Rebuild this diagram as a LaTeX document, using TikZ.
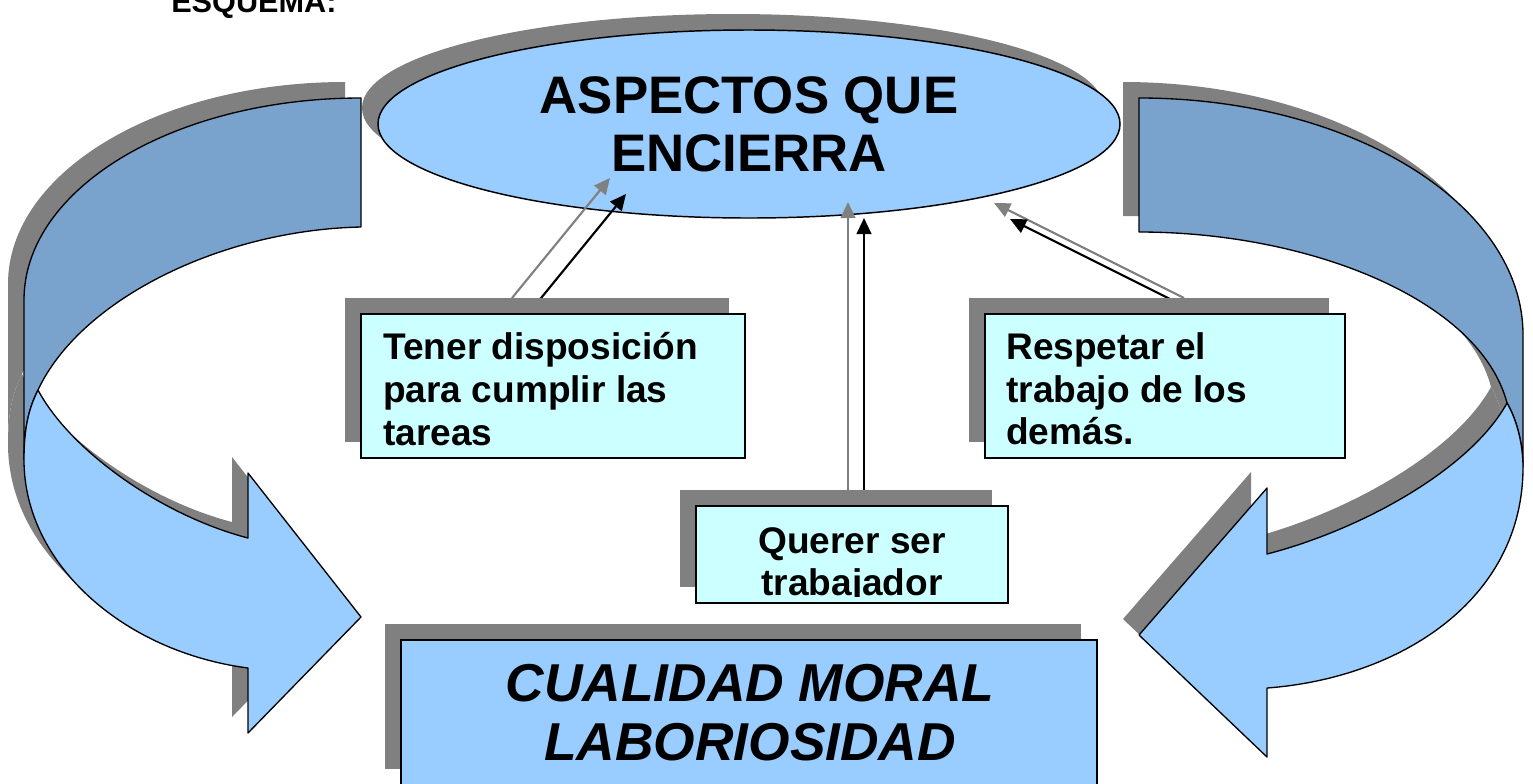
\documentclass[tikz,border=0pt]{standalone}
\usepackage{fontspec}
\setmainfont{Liberation Sans}
\usetikzlibrary{arrows.meta,shapes.geometric,shadows}
\definecolor{lightblue}{HTML}{99CCFF}
\definecolor{bandblue}{HTML}{79A3CC}
\definecolor{paleblue}{HTML}{CCFFFF}
\definecolor{shadowc}{HTML}{808080}

\newcommand\leftBack[1]{\path[#1] (361,98) .. controls (175,98) and (24,188) .. (24,300) -- (24,460) .. controls (24,430) and (28,410) .. (38,390) .. controls (80,300) and (220,230) .. (361,227) -- cycle;}
\newcommand\leftFront[1]{\path[#1] (38,390) .. controls (70,450) and (160,515) .. (248,538) -- (248,473) -- (361,617) -- (248,733) -- (248,668) .. controls (125,652) and (24,565) .. (24,460) .. controls (24,430) and (28,410) .. (38,390) -- cycle;}
\newcommand\rightBack[1]{\path[#1] (1139,98) .. controls (1351,98) and (1523,204) .. (1523,335) -- (1523,467) .. controls (1523,445) and (1517,420) .. (1507,403) .. controls (1480,300) and (1310,232) .. (1139,232) -- cycle;}
\newcommand\rightFront[1]{\path[#1] (1507,403) .. controls (1470,470) and (1360,530) .. (1267,554) -- (1267,488) -- (1139,635) -- (1267,757) -- (1267,688) .. controls (1400,678) and (1523,600) .. (1523,467) .. controls (1523,445) and (1517,420) .. (1507,403) -- cycle;}

\tikzset{
  shadowshift/.style={fill=shadowc, shift={(-16,-16)}},
  bandback/.style={fill=bandblue, draw=black, line width=1pt, line join=round},
  bandfront/.style={fill=lightblue, draw=black, line width=1pt, line join=round},
  myshadow/.style={drop shadow={shadow xshift=-12pt, shadow yshift=12pt, opacity=1, fill=shadowc}},
  txtbox/.style={draw=black, line width=1.1pt, fill=paleblue, inner sep=0pt, myshadow},
  boxtxt/.style={font=\bfseries\fontsize{27.8}{32}\selectfont, align=left, inner sep=0pt, anchor=west},
  boxtxtc/.style={font=\bfseries\fontsize{27.8}{32}\selectfont, inner sep=0pt, anchor=base},
  conn/.style={line width=1.6pt, -{Triangle[length=12pt,width=11pt]}},
  connshadow/.style={conn, color=shadowc},
}

\begin{document}
\begin{tikzpicture}[x=0.75pt,y=-0.75pt]
\useasboundingbox (0,0) rectangle (1533,783);

% left curved arrow
\leftBack{shadowshift}
\leftFront{shadowshift}
\leftBack{bandback}
\leftFront{bandfront}

% right curved arrow
\rightBack{shadowshift}
\rightFront{shadowshift}
\rightBack{bandback}
\rightFront{bandfront}

% ellipse
\node[ellipse, draw=black, line width=1.1pt, fill=lightblue, minimum width=556.5pt, minimum height=141pt, inner sep=0pt, myshadow, font=\bfseries\fontsize{39.6}{43.5}\selectfont, align=center] (el) at (749,124) {ASPECTOS QUE\\ENCIERRA};

% connector end points
\coordinate (c1s) at (528,314);
\coordinate (c1e) at (626,194);
\coordinate (c2s) at (864,506);
\coordinate (c2e) at (864,218);
\coordinate (c3s) at (1200,314);
\coordinate (c3e) at (1010,219);

\draw[connshadow] ([shift={(-16,-16)}]c1s) -- ([shift={(-16,-16)}]c1e);
\draw[connshadow] ([shift={(-16,-16)}]c2s) -- ([shift={(-16,-16)}]c2e);
\draw[connshadow] ([shift={(-16,-16)}]c3s) -- ([shift={(-16,-16)}]c3e);
\draw[conn] (c1s) -- (c1e);
\draw[conn] (c2s) -- (c2e);
\draw[conn] (c3s) -- (c3e);

% boxes
\node[txtbox, minimum width=288pt, minimum height=108pt] (b1) at (553,386) {};
\node[boxtxt] (t1) at (383,389) {Tener disposición\\para cumplir las\\tareas};

\node[txtbox, minimum width=270pt, minimum height=108pt] (b2) at (1165,386) {};
\node[boxtxt] (t2) at (1006,389) {Respetar el\\trabajo de los\\demás.};

\node[txtbox, minimum width=234pt, minimum height=72.75pt] (b3) at (852,554.5) {};
\begin{scope}
\clip (697,507) rectangle (1007,596);
\node[boxtxtc] (t3a) at (852,553) {Querer ser};
\node[boxtxtc] (t3b) at (852,595) {trabajador};
\end{scope}

% bottom box
\node[draw=black, line width=1.1pt, fill=lightblue, inner sep=0pt, myshadow, minimum width=522pt, minimum height=108.75pt] (b4) at (749,712.5) {};
\node[font=\bfseries\itshape\fontsize{40}{44}\selectfont, align=center, inner sep=0pt] (t4) at (750,712.5) {CUALIDAD MORAL\\LABORIOSIDAD};

% title (cut off at the top, as in the reference)
\node[anchor=base west, inner sep=0pt, font=\bfseries\fontsize{23}{28}\selectfont] (esq) at (171,12.5) {ESQUEMA:};
\end{tikzpicture}
\end{document}
